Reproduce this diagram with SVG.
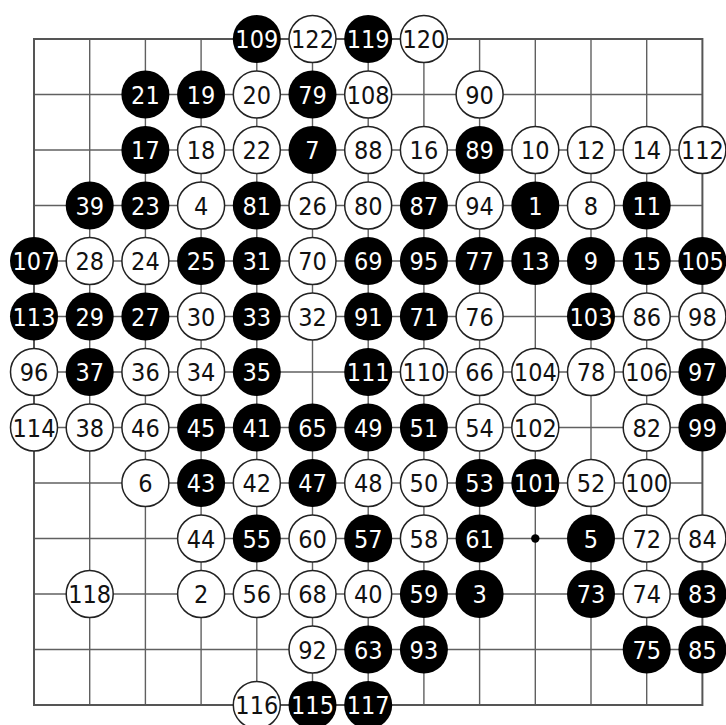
<svg xmlns="http://www.w3.org/2000/svg" width="726" height="725" viewBox="0 0 726 725">
<style>
.grid line{stroke:#606060;stroke-width:1.4}
.border{fill:none;stroke:#555;stroke-width:2}
.b circle{fill:#000}
.w circle{fill:#fff;stroke:#222;stroke-width:1.5}
text{font-family:"DejaVu Sans Condensed","DejaVu Sans",sans-serif;font-stretch:condensed;font-size:25px;text-anchor:middle}
.b text{fill:#fff}
.w text{fill:#111}
</style>
<rect width="726" height="725" fill="#fff"/>
<g id="connectors" class="grid">
<line x1="34" y1="94.5" x2="702.4" y2="94.5"/>
<line x1="34" y1="150" x2="702.4" y2="150"/>
<line x1="34" y1="205.5" x2="702.4" y2="205.5"/>
<line x1="34" y1="261" x2="702.4" y2="261"/>
<line x1="34" y1="316.5" x2="702.4" y2="316.5"/>
<line x1="34" y1="372" x2="702.4" y2="372"/>
<line x1="34" y1="427.5" x2="702.4" y2="427.5"/>
<line x1="34" y1="483" x2="702.4" y2="483"/>
<line x1="34" y1="538.5" x2="702.4" y2="538.5"/>
<line x1="34" y1="594" x2="702.4" y2="594"/>
<line x1="34" y1="649.5" x2="702.4" y2="649.5"/>
<line x1="89.7" y1="39" x2="89.7" y2="705"/>
<line x1="145.4" y1="39" x2="145.4" y2="705"/>
<line x1="201.1" y1="39" x2="201.1" y2="705"/>
<line x1="256.8" y1="39" x2="256.8" y2="705"/>
<line x1="312.5" y1="39" x2="312.5" y2="705"/>
<line x1="368.2" y1="39" x2="368.2" y2="705"/>
<line x1="423.9" y1="39" x2="423.9" y2="705"/>
<line x1="479.6" y1="39" x2="479.6" y2="705"/>
<line x1="535.3" y1="39" x2="535.3" y2="705"/>
<line x1="591" y1="39" x2="591" y2="705"/>
<line x1="646.7" y1="39" x2="646.7" y2="705"/>
<rect class="border" x="34" y="39" width="668.4" height="666"/>
<circle cx="535.3" cy="538.5" r="4.2" fill="#000"/>
</g>
<!-- row 0 -->
<g id="s109" class="b" transform="translate(256.8,39)"><circle r="24"/><text y="9">109</text></g>
<g id="s122" class="w" transform="translate(312.5,39)"><circle r="23.5"/><text y="9">122</text></g>
<g id="s119" class="b" transform="translate(368.2,39)"><circle r="24"/><text y="9">119</text></g>
<g id="s120" class="w" transform="translate(423.9,39)"><circle r="23.5"/><text y="9">120</text></g>
<!-- row 1 -->
<g id="s21" class="b" transform="translate(145.4,94.5)"><circle r="24"/><text y="9">21</text></g>
<g id="s19" class="b" transform="translate(201.1,94.5)"><circle r="24"/><text y="9">19</text></g>
<g id="s20" class="w" transform="translate(256.8,94.5)"><circle r="23.5"/><text y="9">20</text></g>
<g id="s79" class="b" transform="translate(312.5,94.5)"><circle r="24"/><text y="9">79</text></g>
<g id="s108" class="w" transform="translate(368.2,94.5)"><circle r="23.5"/><text y="9">108</text></g>
<g id="s90" class="w" transform="translate(479.6,94.5)"><circle r="23.5"/><text y="9">90</text></g>
<!-- row 2 -->
<g id="s17" class="b" transform="translate(145.4,150)"><circle r="24"/><text y="9">17</text></g>
<g id="s18" class="w" transform="translate(201.1,150)"><circle r="23.5"/><text y="9">18</text></g>
<g id="s22" class="w" transform="translate(256.8,150)"><circle r="23.5"/><text y="9">22</text></g>
<g id="s7" class="b" transform="translate(312.5,150)"><circle r="24"/><text y="9">7</text></g>
<g id="s88" class="w" transform="translate(368.2,150)"><circle r="23.5"/><text y="9">88</text></g>
<g id="s16" class="w" transform="translate(423.9,150)"><circle r="23.5"/><text y="9">16</text></g>
<g id="s89" class="b" transform="translate(479.6,150)"><circle r="24"/><text y="9">89</text></g>
<g id="s10" class="w" transform="translate(535.3,150)"><circle r="23.5"/><text y="9">10</text></g>
<g id="s12" class="w" transform="translate(591,150)"><circle r="23.5"/><text y="9">12</text></g>
<g id="s14" class="w" transform="translate(646.7,150)"><circle r="23.5"/><text y="9">14</text></g>
<g id="s112" class="w" transform="translate(702.4,150)"><circle r="23.5"/><text y="9">112</text></g>
<!-- row 3 -->
<g id="s39" class="b" transform="translate(89.7,205.5)"><circle r="24"/><text y="9">39</text></g>
<g id="s23" class="b" transform="translate(145.4,205.5)"><circle r="24"/><text y="9">23</text></g>
<g id="s4" class="w" transform="translate(201.1,205.5)"><circle r="23.5"/><text y="9">4</text></g>
<g id="s81" class="b" transform="translate(256.8,205.5)"><circle r="24"/><text y="9">81</text></g>
<g id="s26" class="w" transform="translate(312.5,205.5)"><circle r="23.5"/><text y="9">26</text></g>
<g id="s80" class="w" transform="translate(368.2,205.5)"><circle r="23.5"/><text y="9">80</text></g>
<g id="s87" class="b" transform="translate(423.9,205.5)"><circle r="24"/><text y="9">87</text></g>
<g id="s94" class="w" transform="translate(479.6,205.5)"><circle r="23.5"/><text y="9">94</text></g>
<g id="s1" class="b" transform="translate(535.3,205.5)"><circle r="24"/><text y="9">1</text></g>
<g id="s8" class="w" transform="translate(591,205.5)"><circle r="23.5"/><text y="9">8</text></g>
<g id="s11" class="b" transform="translate(646.7,205.5)"><circle r="24"/><text y="9">11</text></g>
<!-- row 4 -->
<g id="s107" class="b" transform="translate(34,261)"><circle r="24"/><text y="9">107</text></g>
<g id="s28" class="w" transform="translate(89.7,261)"><circle r="23.5"/><text y="9">28</text></g>
<g id="s24" class="w" transform="translate(145.4,261)"><circle r="23.5"/><text y="9">24</text></g>
<g id="s25" class="b" transform="translate(201.1,261)"><circle r="24"/><text y="9">25</text></g>
<g id="s31" class="b" transform="translate(256.8,261)"><circle r="24"/><text y="9">31</text></g>
<g id="s70" class="w" transform="translate(312.5,261)"><circle r="23.5"/><text y="9">70</text></g>
<g id="s69" class="b" transform="translate(368.2,261)"><circle r="24"/><text y="9">69</text></g>
<g id="s95" class="b" transform="translate(423.9,261)"><circle r="24"/><text y="9">95</text></g>
<g id="s77" class="b" transform="translate(479.6,261)"><circle r="24"/><text y="9">77</text></g>
<g id="s13" class="b" transform="translate(535.3,261)"><circle r="24"/><text y="9">13</text></g>
<g id="s9" class="b" transform="translate(591,261)"><circle r="24"/><text y="9">9</text></g>
<g id="s15" class="b" transform="translate(646.7,261)"><circle r="24"/><text y="9">15</text></g>
<g id="s105" class="b" transform="translate(702.4,261)"><circle r="24"/><text y="9">105</text></g>
<!-- row 5 -->
<g id="s113" class="b" transform="translate(34,316.5)"><circle r="24"/><text y="9">113</text></g>
<g id="s29" class="b" transform="translate(89.7,316.5)"><circle r="24"/><text y="9">29</text></g>
<g id="s27" class="b" transform="translate(145.4,316.5)"><circle r="24"/><text y="9">27</text></g>
<g id="s30" class="w" transform="translate(201.1,316.5)"><circle r="23.5"/><text y="9">30</text></g>
<g id="s33" class="b" transform="translate(256.8,316.5)"><circle r="24"/><text y="9">33</text></g>
<g id="s32" class="w" transform="translate(312.5,316.5)"><circle r="23.5"/><text y="9">32</text></g>
<g id="s91" class="b" transform="translate(368.2,316.5)"><circle r="24"/><text y="9">91</text></g>
<g id="s71" class="b" transform="translate(423.9,316.5)"><circle r="24"/><text y="9">71</text></g>
<g id="s76" class="w" transform="translate(479.6,316.5)"><circle r="23.5"/><text y="9">76</text></g>
<g id="s103" class="b" transform="translate(591,316.5)"><circle r="24"/><text y="9">103</text></g>
<g id="s86" class="w" transform="translate(646.7,316.5)"><circle r="23.5"/><text y="9">86</text></g>
<g id="s98" class="w" transform="translate(702.4,316.5)"><circle r="23.5"/><text y="9">98</text></g>
<!-- row 6 -->
<g id="s96" class="w" transform="translate(34,372)"><circle r="23.5"/><text y="9">96</text></g>
<g id="s37" class="b" transform="translate(89.7,372)"><circle r="24"/><text y="9">37</text></g>
<g id="s36" class="w" transform="translate(145.4,372)"><circle r="23.5"/><text y="9">36</text></g>
<g id="s34" class="w" transform="translate(201.1,372)"><circle r="23.5"/><text y="9">34</text></g>
<g id="s35" class="b" transform="translate(256.8,372)"><circle r="24"/><text y="9">35</text></g>
<g id="s111" class="b" transform="translate(368.2,372)"><circle r="24"/><text y="9">111</text></g>
<g id="s110" class="w" transform="translate(423.9,372)"><circle r="23.5"/><text y="9">110</text></g>
<g id="s66" class="w" transform="translate(479.6,372)"><circle r="23.5"/><text y="9">66</text></g>
<g id="s104" class="w" transform="translate(535.3,372)"><circle r="23.5"/><text y="9">104</text></g>
<g id="s78" class="w" transform="translate(591,372)"><circle r="23.5"/><text y="9">78</text></g>
<g id="s106" class="w" transform="translate(646.7,372)"><circle r="23.5"/><text y="9">106</text></g>
<g id="s97" class="b" transform="translate(702.4,372)"><circle r="24"/><text y="9">97</text></g>
<!-- row 7 -->
<g id="s114" class="w" transform="translate(34,427.5)"><circle r="23.5"/><text y="9">114</text></g>
<g id="s38" class="w" transform="translate(89.7,427.5)"><circle r="23.5"/><text y="9">38</text></g>
<g id="s46" class="w" transform="translate(145.4,427.5)"><circle r="23.5"/><text y="9">46</text></g>
<g id="s45" class="b" transform="translate(201.1,427.5)"><circle r="24"/><text y="9">45</text></g>
<g id="s41" class="b" transform="translate(256.8,427.5)"><circle r="24"/><text y="9">41</text></g>
<g id="s65" class="b" transform="translate(312.5,427.5)"><circle r="24"/><text y="9">65</text></g>
<g id="s49" class="b" transform="translate(368.2,427.5)"><circle r="24"/><text y="9">49</text></g>
<g id="s51" class="b" transform="translate(423.9,427.5)"><circle r="24"/><text y="9">51</text></g>
<g id="s54" class="w" transform="translate(479.6,427.5)"><circle r="23.5"/><text y="9">54</text></g>
<g id="s102" class="w" transform="translate(535.3,427.5)"><circle r="23.5"/><text y="9">102</text></g>
<g id="s82" class="w" transform="translate(646.7,427.5)"><circle r="23.5"/><text y="9">82</text></g>
<g id="s99" class="b" transform="translate(702.4,427.5)"><circle r="24"/><text y="9">99</text></g>
<!-- row 8 -->
<g id="s6" class="w" transform="translate(145.4,483)"><circle r="23.5"/><text y="9">6</text></g>
<g id="s43" class="b" transform="translate(201.1,483)"><circle r="24"/><text y="9">43</text></g>
<g id="s42" class="w" transform="translate(256.8,483)"><circle r="23.5"/><text y="9">42</text></g>
<g id="s47" class="b" transform="translate(312.5,483)"><circle r="24"/><text y="9">47</text></g>
<g id="s48" class="w" transform="translate(368.2,483)"><circle r="23.5"/><text y="9">48</text></g>
<g id="s50" class="w" transform="translate(423.9,483)"><circle r="23.5"/><text y="9">50</text></g>
<g id="s53" class="b" transform="translate(479.6,483)"><circle r="24"/><text y="9">53</text></g>
<g id="s101" class="b" transform="translate(535.3,483)"><circle r="24"/><text y="9">101</text></g>
<g id="s52" class="w" transform="translate(591,483)"><circle r="23.5"/><text y="9">52</text></g>
<g id="s100" class="w" transform="translate(646.7,483)"><circle r="23.5"/><text y="9">100</text></g>
<!-- row 9 -->
<g id="s44" class="w" transform="translate(201.1,538.5)"><circle r="23.5"/><text y="9">44</text></g>
<g id="s55" class="b" transform="translate(256.8,538.5)"><circle r="24"/><text y="9">55</text></g>
<g id="s60" class="w" transform="translate(312.5,538.5)"><circle r="23.5"/><text y="9">60</text></g>
<g id="s57" class="b" transform="translate(368.2,538.5)"><circle r="24"/><text y="9">57</text></g>
<g id="s58" class="w" transform="translate(423.9,538.5)"><circle r="23.5"/><text y="9">58</text></g>
<g id="s61" class="b" transform="translate(479.6,538.5)"><circle r="24"/><text y="9">61</text></g>
<g id="s5" class="b" transform="translate(591,538.5)"><circle r="24"/><text y="9">5</text></g>
<g id="s72" class="w" transform="translate(646.7,538.5)"><circle r="23.5"/><text y="9">72</text></g>
<g id="s84" class="w" transform="translate(702.4,538.5)"><circle r="23.5"/><text y="9">84</text></g>
<!-- row 10 -->
<g id="s118" class="w" transform="translate(89.7,594)"><circle r="23.5"/><text y="9">118</text></g>
<g id="s2" class="w" transform="translate(201.1,594)"><circle r="23.5"/><text y="9">2</text></g>
<g id="s56" class="w" transform="translate(256.8,594)"><circle r="23.5"/><text y="9">56</text></g>
<g id="s68" class="w" transform="translate(312.5,594)"><circle r="23.5"/><text y="9">68</text></g>
<g id="s40" class="w" transform="translate(368.2,594)"><circle r="23.5"/><text y="9">40</text></g>
<g id="s59" class="b" transform="translate(423.9,594)"><circle r="24"/><text y="9">59</text></g>
<g id="s3" class="b" transform="translate(479.6,594)"><circle r="24"/><text y="9">3</text></g>
<g id="s73" class="b" transform="translate(591,594)"><circle r="24"/><text y="9">73</text></g>
<g id="s74" class="w" transform="translate(646.7,594)"><circle r="23.5"/><text y="9">74</text></g>
<g id="s83" class="b" transform="translate(702.4,594)"><circle r="24"/><text y="9">83</text></g>
<!-- row 11 -->
<g id="s92" class="w" transform="translate(312.5,649.5)"><circle r="23.5"/><text y="9">92</text></g>
<g id="s63" class="b" transform="translate(368.2,649.5)"><circle r="24"/><text y="9">63</text></g>
<g id="s93" class="b" transform="translate(423.9,649.5)"><circle r="24"/><text y="9">93</text></g>
<g id="s75" class="b" transform="translate(646.7,649.5)"><circle r="24"/><text y="9">75</text></g>
<g id="s85" class="b" transform="translate(702.4,649.5)"><circle r="24"/><text y="9">85</text></g>
<!-- row 12 -->
<g id="s116" class="w" transform="translate(256.8,705)"><circle r="23.5"/><text y="9">116</text></g>
<g id="s115" class="b" transform="translate(312.5,705)"><circle r="24"/><text y="9">115</text></g>
<g id="s117" class="b" transform="translate(368.2,705)"><circle r="24"/><text y="9">117</text></g>
</svg>
